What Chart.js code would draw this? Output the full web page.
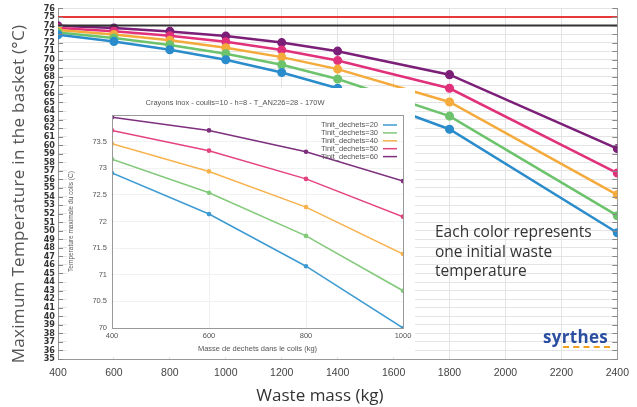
<!DOCTYPE html>
<html>
<head>
<meta charset="utf-8">
<script src="https://cdn.jsdelivr.net/npm/chart.js@4.4.0/dist/chart.umd.min.js"></script>
<style>
  body { margin: 0; background: #fff; }
  #wrap { position: relative; width: 637px; height: 407px; overflow: hidden; }
  #main { position: absolute; left: 0; top: 0; }
  #inset { position: absolute; left: 67px; top: 88px; background: #fff; }
  .note { position: absolute; left: 435px; top: 222px; font: 15.5px "Open Sans", sans-serif; line-height: 19.5px; color: #333; }
  .xtitle { position: absolute; left: 220px; width: 200px; top: 383px; text-align: center; font: 17px "Open Sans", sans-serif; color: #333; }
  .ytitle { position: absolute; left: 18px; top: 194px; width: 400px; margin-left: -200px; margin-top: -11px; text-align: center;
            transform: rotate(-90deg); font: 17px "Open Sans", sans-serif; letter-spacing: 0.3px; line-height: 22px; color: #555; white-space: nowrap; }
  .logo { position: absolute; left: 543px; top: 325px; font: bold 17px "Open Sans", sans-serif; color: #2b4ea0; letter-spacing: 0.3px; }
  .logo span { position: absolute; left: 20px; top: 21px; width: 47px; border-top: 2px dashed #f0a020; }
</style>
</head>
<body>
<div id="wrap">
  <canvas id="main" width="637" height="407"></canvas>
  <canvas id="inset" width="348" height="269"></canvas>
  <div class="note">Each color represents<br>one initial waste<br>temperature</div>
  <div class="xtitle">Waste mass (kg)</div>
  <div class="ytitle">Maximum Temperature in the basket (°C)</div>
  <div class="logo">syrthes<span></span></div>
</div>
<script>
// masses (kg)
var masses = [400, 600, 800, 1000, 1200, 1400, 1800, 2400];
var insetMasses = [400, 600, 800, 1000];

// max temperature per initial waste temperature
var t20 = [72.91, 72.14, 71.16, 70.0, 68.5, 66.66, 61.87, 49.77];
var t30 = [73.17, 72.54, 71.73, 70.7, 69.4, 67.75, 63.4, 51.76];
var t40 = [73.46, 72.94, 72.27, 71.39, 70.3, 68.9, 65.06, 54.2];
var t50 = [73.71, 73.33, 72.8, 72.09, 71.14, 69.9, 66.66, 56.75];
var t60 = [73.96, 73.71, 73.31, 72.76, 72.0, 71.0, 68.25, 59.6];

var limitRed = 75;
var limitBlack = 74;

var seriesNames = ['Tinit_dechets=20', 'Tinit_dechets=30', 'Tinit_dechets=40', 'Tinit_dechets=50', 'Tinit_dechets=60'];
var seriesData = [t20, t30, t40, t50, t60];
var mainColors = ['#2b8ccc', '#6cc36c', '#f5aa3c', '#e2317b', '#7b1f78'];
var insetColors = ['#3d9bd1', '#82c97a', '#f7b24e', '#e4437f', '#7e2f7d'];

function pts(xs, ys) {
    return xs.map(function(x, i) { return {x: x, y: ys[i]}; });
}

// petits traits de graduation vers l'interieur
var innerTicks = {
    id: 'innerTicks',
    afterDraw: function(chart) {
        var ctx = chart.ctx, a = chart.chartArea, y = chart.scales.y;
        ctx.save();
        ctx.strokeStyle = '#888';
        ctx.lineWidth = 1;
        for (var v = 35; v <= 76; v++) {
            var p = Math.round(y.getPixelForValue(v)) + 0.5;
            ctx.beginPath();
            ctx.moveTo(a.left, p); ctx.lineTo(a.left + 5, p);
            ctx.moveTo(a.right - 5, p); ctx.lineTo(a.right, p);
            ctx.stroke();
        }
        ctx.restore();
    }
};

var mainSets = [
    {data: [{x: 400, y: limitRed}, {x: 2400, y: limitRed}], borderColor: '#e8383a', borderWidth: 2, pointRadius: 0},
    {data: [{x: 400, y: limitBlack}, {x: 2400, y: limitBlack}], borderColor: '#333', borderWidth: 2, pointRadius: 0}
];
seriesData.forEach(function(s, i) {
    mainSets.push({
        data: pts(masses, s), borderColor: mainColors[i], backgroundColor: mainColors[i],
        borderWidth: 2.5, pointRadius: 3.3, pointHoverRadius: 3.3
    });
});

var plain = function(v) { return String(v); };

new Chart(document.getElementById('main'), {
    type: 'line',
    data: { datasets: mainSets },
    options: {
        responsive: false,
        animation: false,
        devicePixelRatio: 1,
        layout: { padding: { top: 4 } },
        plugins: { legend: { display: false }, tooltip: { enabled: false } },
        scales: {
            x: {
                type: 'linear', min: 400, max: 2400,
                ticks: { stepSize: 200, color: '#444', font: { size: 10.5, family: 'Liberation Sans' }, padding: 8, callback: plain },
                grid: { color: '#e4e4e4', drawTicks: false },
                border: { color: '#999' },
                afterFit: function(s) { s.height = 48; }
            },
            y: {
                min: 35, max: 76,
                ticks: { stepSize: 1, autoSkip: false, color: '#333', font: { size: 9, weight: 'bold', family: 'DejaVu Sans Condensed' }, padding: 3 },
                grid: { color: '#e4e4e4', drawTicks: false },
                border: { color: '#999' },
                afterFit: function(s) { s.width = 58; }
            },
            y2: {
                position: 'right', min: 35, max: 76,
                ticks: { display: false },
                grid: { drawOnChartArea: false, drawTicks: false },
                border: { color: '#999' },
                afterFit: function(s) { s.width = 10; }
            }
        }
    },
    plugins: [innerTicks]
});

// graphique encart
var insetBox = {
    id: 'insetBox',
    afterDraw: function(chart) {
        var ctx = chart.ctx, a = chart.chartArea;
        ctx.save();
        ctx.strokeStyle = '#999';
        ctx.lineWidth = 1;
        ctx.strokeRect(a.left + 0.5, a.top + 0.5, a.right - a.left, a.bottom - a.top);
        ctx.font = '7.5px "Liberation Sans"';
        ctx.textAlign = 'right';
        ctx.textBaseline = 'middle';
        seriesNames.forEach(function(n, i) {
            var yy = a.top + 10 + i * 7.9;
            ctx.fillStyle = '#555';
            ctx.fillText(n, a.right - 25, yy);
            ctx.strokeStyle = insetColors[i];
            ctx.lineWidth = 1.5;
            ctx.beginPath();
            ctx.moveTo(a.right - 20, yy); ctx.lineTo(a.right - 6, yy);
            ctx.stroke();
        });
        ctx.restore();
    }
};

var insetSets = seriesData.map(function(s, i) {
    return {
        data: pts(insetMasses, s.slice(0, 4)), borderColor: insetColors[i], backgroundColor: insetColors[i],
        borderWidth: 1.5, pointRadius: 1.6, pointHoverRadius: 1.6
    };
});

new Chart(document.getElementById('inset'), {
    type: 'line',
    data: { datasets: insetSets },
    options: {
        responsive: false,
        animation: false,
        devicePixelRatio: 1,
        layout: { padding: { right: 12 } },
        plugins: {
            legend: { display: false }, tooltip: { enabled: false },
            title: { display: true, text: 'Crayons inox - coulis=10 - h=8 - T_AN226=28 - 170W', color: '#555', font: { size: 7.5, weight: 'normal', family: 'Liberation Sans' }, padding: { top: 10, bottom: 8 } }
        },
        scales: {
            x: {
                type: 'linear', min: 400, max: 1000,
                ticks: { stepSize: 200, color: '#555', font: { size: 7.5, family: 'Liberation Sans' }, padding: 3, callback: plain },
                grid: { color: '#eee', drawTicks: false },
                border: { display: false },
                title: { display: true, text: 'Masse de dechets dans le colis (kg)', color: '#555', font: { size: 7.5, family: 'Liberation Sans' }, padding: { top: 2 } },
                afterFit: function(s) { s.height = 29; }
            },
            y: {
                min: 70, max: 74,
                ticks: { stepSize: 0.5, color: '#555', font: { size: 7.5, family: 'Liberation Sans' }, padding: 5,
                    callback: function(v) { return v === 74 ? '' : v; } },
                grid: { color: '#f2f2f2', drawTicks: false },
                border: { display: false },
                title: { display: true, text: 'Temperature maximale du colis (C)', color: '#555', font: { size: 6.5, family: 'Liberation Sans' }, padding: 0 },
                afterFit: function(s) { s.width = 45; }
            }
        }
    },
    plugins: [insetBox]
});
</script>
</body>
</html>
